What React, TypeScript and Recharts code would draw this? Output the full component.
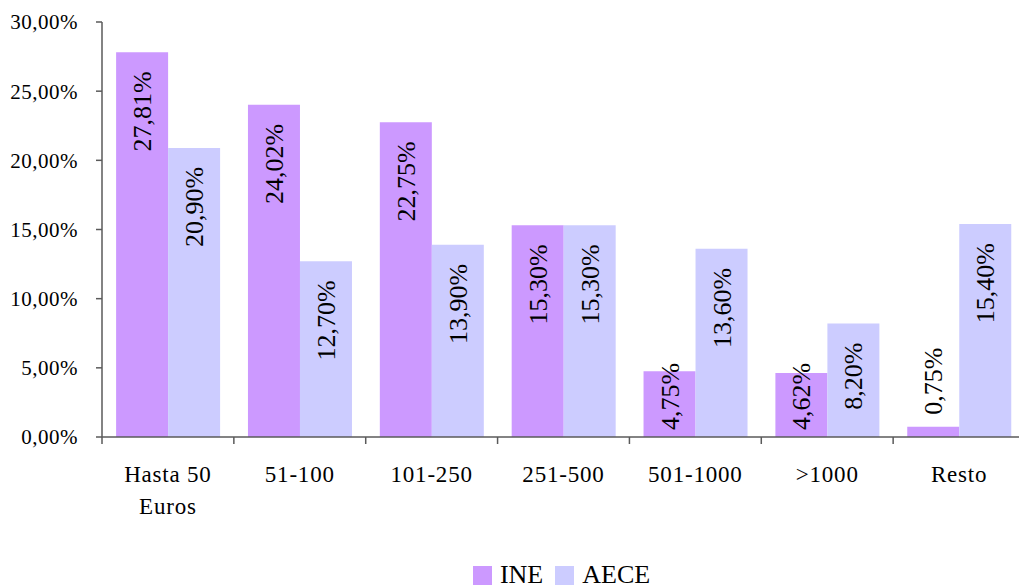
import React from 'react';
import { BarChart, Bar, XAxis, YAxis, LabelList } from 'recharts';

const categories = ['Hasta 50|Euros', '51-100', '101-250', '251-500', '501-1000', '>1000', 'Resto'];
const ineValues = [27.81, 24.02, 22.75, 15.3, 4.75, 4.62, 0.75];
const aeceValues = [20.9, 12.7, 13.9, 15.3, 13.6, 8.2, 15.4];
const yTicks = [0, 5, 10, 15, 20, 25, 30];
const seriesNames = ['INE', 'AECE'];
const seriesColors = ['#cc99ff', '#ccccff'];

const data = categories.map((c, i) => ({ name: c, ine: ineValues[i], aece: aeceValues[i] }));

// the plot runs a little past the right edge of the picture, so draw wider and clip
const W = 1019;
const CHART_W = 1030;
const H = 588;
const LEFT = 102;
const RIGHT = 5;
const TOP = 22;
const AXIS_Y = 437;
const FONT = 'Liberation Serif';
const AXIS_COLOR = '#5a5a5a';
const band = (CHART_W - LEFT - RIGHT) / categories.length;

const fmt = (v: number) => v.toFixed(2).replace('.', ',') + '%';

const CategoryTick = (props: any) => {
  const { x, y, payload, index } = props;
  const lines = String(payload.value).split('|');
  return (
    <g>
      <line x1={x - band / 2} x2={x - band / 2} y1={AXIS_Y} y2={AXIS_Y + 7} stroke={AXIS_COLOR} strokeWidth={1.5} />
      {index === categories.length - 1 && (
        <line x1={x + band / 2} x2={x + band / 2} y1={AXIS_Y} y2={AXIS_Y + 7} stroke={AXIS_COLOR} strokeWidth={1.5} />
      )}
      {lines.map((l, i) => (
        <text key={i} x={x} y={y + 37 + i * 32} textAnchor="middle" fontFamily={FONT} fontSize={23} letterSpacing={0.8} fill="#000">
          {l}
        </text>
      ))}
    </g>
  );
};

const ValueLabel = (props: any) => {
  const { x, y, width, height, value } = props;
  const textLen = 80;
  const cx = x + width / 2 + 9;
  let ty: number;
  let anchor: 'end' | 'start';
  if (height >= textLen + 22) {
    ty = y + 19;
    anchor = 'end';
  } else if (height >= 30) {
    ty = y + height - 7;
    anchor = 'start';
  } else {
    ty = y - 12;
    anchor = 'start';
  }
  return (
    <text
      x={cx}
      y={ty}
      transform={`rotate(-90 ${cx} ${ty})`}
      textAnchor={anchor}
      fontFamily={FONT}
      fontSize={26}
      fill="#000"
    >
      {fmt(value)}
    </text>
  );
};

export default function App() {
  return (
    <div style={{ position: 'absolute', left: 0, top: 0, width: W, height: H, background: '#fff', overflow: 'hidden', fontFamily: FONT }}>
      <BarChart
        width={CHART_W}
        height={H}
        data={data}
        margin={{ top: TOP, right: RIGHT, left: 0, bottom: H - AXIS_Y - 80 }}
        barCategoryGap="10.7%"
        barGap={0}
      >
        <YAxis
          width={LEFT}
          domain={[0, 30]}
          ticks={yTicks}
          interval={0}
          tickFormatter={fmt}
          stroke={AXIS_COLOR}
          strokeWidth={1.5}
          tickSize={6}
          tick={{ fontFamily: FONT, fontSize: 21, letterSpacing: 0.5, fill: '#000' }}
          tickMargin={18}
        />
        <XAxis
          dataKey="name"
          height={80}
          stroke={AXIS_COLOR}
          strokeWidth={1.5}
          tickLine={false}
          interval={0}
          tick={<CategoryTick />}
        />
        <Bar dataKey="ine" fill={seriesColors[0]} isAnimationActive={false}>
          <LabelList dataKey="ine" content={<ValueLabel />} />
        </Bar>
        <Bar dataKey="aece" fill={seriesColors[1]} isAnimationActive={false}>
          <LabelList dataKey="aece" content={<ValueLabel />} />
        </Bar>
      </BarChart>
      <div
        style={{
          position: 'absolute',
          top: 563,
          left: 0,
          width: W,
          display: 'flex',
          justifyContent: 'center',
          paddingLeft: 104,
          boxSizing: 'border-box',
          fontSize: 26,
          lineHeight: '24px',
        }}
      >
        {seriesNames.map((n, i) => (
          <div key={n} style={{ display: 'flex', alignItems: 'center', marginRight: i === 0 ? 12 : 0 }}>
            <span style={{ display: 'inline-block', width: 19, height: 19, background: seriesColors[i], marginRight: 8 }} />
            <span>{n}</span>
          </div>
        ))}
      </div>
    </div>
  );
}
